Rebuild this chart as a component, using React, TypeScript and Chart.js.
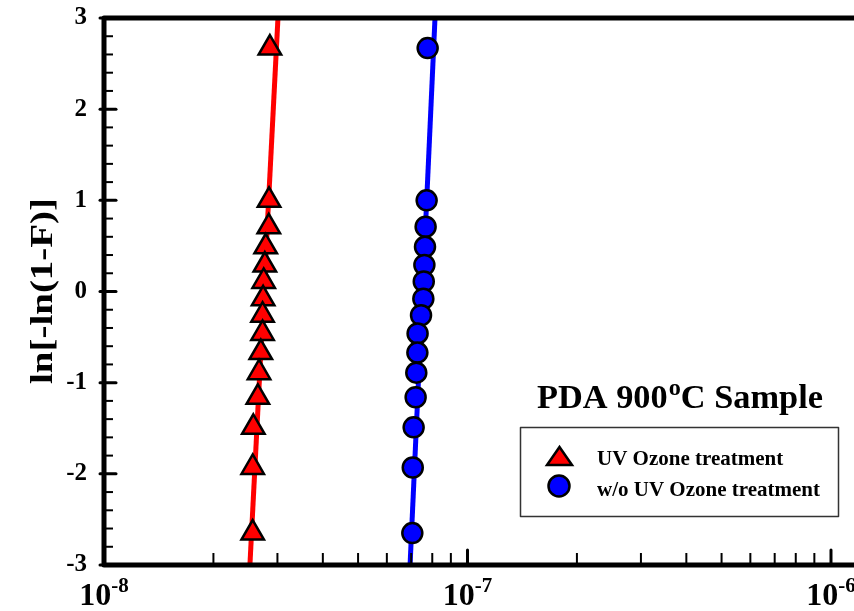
import React, { useEffect, useRef } from "react";
import { Chart, registerables } from "chart.js";

Chart.register(...registerables);

// ---- data ----
const fValues = [2.67, 1.0, 0.71, 0.49, 0.29, 0.11, -0.08, -0.26, -0.46, -0.67, -0.89, -1.16, -1.49, -1.93, -2.65];
const uvTimes = [2.86e-8, 2.845e-8, 2.84e-8, 2.785e-8, 2.77e-8, 2.75e-8, 2.74e-8, 2.73e-8, 2.73e-8, 2.7e-8, 2.67e-8, 2.65e-8, 2.575e-8, 2.565e-8, 2.565e-8];
const noUvTimes = [7.77e-8, 7.72e-8, 7.67e-8, 7.64e-8, 7.61e-8, 7.58e-8, 7.56e-8, 7.45e-8, 7.29e-8, 7.28e-8, 7.23e-8, 7.2e-8, 7.11e-8, 7.07e-8, 7.05e-8];
const fitY = [-3, 3];
const uvFitX = [2.52e-8, 3.01e-8];
const noUvFitX = [6.95e-8, 8.14e-8];
const yTickValues = [-3, -2, -1, 0, 1, 2, 3];
const xDecades = [-8, -7, -6];
const seriesLabels = ["UV Ozone treatment", "w/o UV Ozone treatment"];
const titleParts = ["PDA 900", "o", "C Sample"];
const yTitle = "ln[-ln(1-F)]";

const SERIF = "'Liberation Serif', 'Times New Roman', serif";
const bold = (px: number) => `bold ${px}px ${SERIF}`;

export default function App() {
  const ref = useRef<HTMLCanvasElement>(null);

  useEffect(() => {
    const canvas = ref.current;
    if (!canvas) return;

    const deco = {
      id: "deco",
      afterDatasetsDraw(chart: any) {
        const ctx: CanvasRenderingContext2D = chart.ctx;
        const { left, top, right, bottom } = chart.chartArea;
        const xs = chart.scales.x;
        const ys = chart.scales.y;
        ctx.save();
        ctx.strokeStyle = "#000";
        ctx.fillStyle = "#000";

        // y ticks (inside), minor every 0.2
        for (let k = -15; k <= 15; k++) {
          const v = k / 5;
          const py = ys.getPixelForValue(v);
          const major = k % 5 === 0;
          ctx.beginPath();
          ctx.lineWidth = major ? 3 : 2;
          ctx.lineCap = major ? "round" : "butt";
          ctx.moveTo(left - (major ? 4 : 0), py);
          ctx.lineTo(left + (major ? 12 : 9), py);
          ctx.stroke();
        }
        // x ticks (inside), log minor
        for (const d of xDecades) {
          for (let m = 1; m <= 9; m++) {
            const v = m * Math.pow(10, d);
            if (v <= xs.min || v > xs.max) continue;
            const px = xs.getPixelForValue(v);
            const major = m === 1;
            ctx.beginPath();
            ctx.lineWidth = major ? 3 : 2;
            ctx.lineCap = major ? "round" : "butt";
            ctx.moveTo(px, bottom);
            ctx.lineTo(px, bottom - (major ? 15 : 12));
            ctx.stroke();
          }
        }
        // frame: top, left, bottom
        ctx.beginPath();
        ctx.lineWidth = 5;
        ctx.lineJoin = "round";
        ctx.lineCap = "butt";
        ctx.moveTo(right + 5, top);
        ctx.lineTo(left, top);
        ctx.lineTo(left, bottom);
        ctx.lineTo(right + 5, bottom);
        ctx.stroke();

        // x tick labels 10^d
        ctx.textBaseline = "alphabetic";
        ctx.textAlign = "left";
        for (const d of xDecades) {
          const px = xs.getPixelForValue(Math.pow(10, d));
          ctx.font = bold(32);
          const wb = ctx.measureText("10").width;
          ctx.font = bold(21);
          const sup = String(d);
          const ws = ctx.measureText(sup).width;
          const x0 = px - (wb + ws) / 2;
          ctx.font = bold(32);
          ctx.fillText("10", x0, 605);
          ctx.font = bold(21);
          ctx.fillText(sup, x0 + wb, 592);
        }

        // y axis title
        ctx.save();
        ctx.font = bold(32);
        const wt = ctx.measureText(yTitle).width;
        const sy = 186 / wt;
        ctx.translate(52, 291);
        ctx.rotate(-Math.PI / 2);
        ctx.scale(sy, 1);
        ctx.textAlign = "center";
        ctx.fillText(yTitle, 0, 0);
        ctx.restore();

        // chart title with superscript
        ctx.save();
        ctx.font = bold(34);
        const w1 = ctx.measureText(titleParts[0]).width;
        const w3 = ctx.measureText(titleParts[2]).width;
        ctx.font = bold(24);
        const w2 = ctx.measureText(titleParts[1]).width;
        const sx = 285 / (w1 + w2 + w3);
        ctx.translate(537, 408);
        ctx.scale(sx, 1);
        ctx.textAlign = "left";
        ctx.font = bold(34);
        ctx.fillText(titleParts[0], 0, 0);
        ctx.font = bold(24);
        ctx.fillText(titleParts[1], w1 + 1, -13);
        ctx.font = bold(34);
        ctx.fillText(titleParts[2], w1 + w2 + 1, 0);
        ctx.restore();

        // legend box
        ctx.beginPath();
        ctx.lineWidth = 1.5;
        ctx.strokeStyle = "#333";
        ctx.rect(520.5, 427.5, 318, 89);
        ctx.stroke();
        // triangle marker
        ctx.beginPath();
        ctx.lineWidth = 2.5;
        ctx.strokeStyle = "#000";
        ctx.lineJoin = "miter";
        ctx.fillStyle = "#ff0000";
        ctx.moveTo(559.5, 447);
        ctx.lineTo(572, 465);
        ctx.lineTo(547, 465);
        ctx.closePath();
        ctx.fill();
        ctx.stroke();
        // circle marker
        ctx.beginPath();
        ctx.fillStyle = "#0000ff";
        ctx.arc(559, 486, 10.5, 0, Math.PI * 2);
        ctx.fill();
        ctx.stroke();
        // legend text
        ctx.fillStyle = "#000";
        ctx.font = bold(21);
        ctx.textAlign = "left";
        ctx.fillText(seriesLabels[0], 597, 465);
        ctx.fillText(seriesLabels[1], 597, 496);

        ctx.restore();
      },
    };

    const zeroPad = (s: any) => {
      s.paddingTop = 0;
      s.paddingBottom = 0;
      s.paddingLeft = 0;
      s.paddingRight = 0;
    };

    const chart = new Chart(canvas, {
      type: "scatter",
      data: {
        datasets: [
          {
            label: seriesLabels[0],
            data: uvTimes.map((x, i) => ({ x, y: fValues[i] })),
            pointStyle: "triangle",
            pointRadius: 13,
            backgroundColor: "#ff0000",
            borderColor: "#000000",
            borderWidth: 2.5,
            order: 1,
          },
          {
            label: seriesLabels[1],
            data: noUvTimes.map((x, i) => ({ x, y: fValues[i] })),
            pointStyle: "circle",
            pointRadius: 10,
            backgroundColor: "#0000ff",
            borderColor: "#000000",
            borderWidth: 2.5,
            order: 1,
          },
          {
            label: "UV fit",
            data: uvFitX.map((x, i) => ({ x, y: fitY[i] })),
            showLine: true,
            pointRadius: 0,
            borderColor: "#ff0000",
            borderWidth: 5,
            order: 2,
          },
          {
            label: "w/o UV fit",
            data: noUvFitX.map((x, i) => ({ x, y: fitY[i] })),
            showLine: true,
            pointRadius: 0,
            borderColor: "#0000ff",
            borderWidth: 5,
            order: 2,
          },
        ],
      },
      options: {
        animation: false,
        responsive: false,
        events: [],
        layout: { autoPadding: false, padding: { top: 18, left: 0, right: 0, bottom: 0 } },
        plugins: { legend: { display: false }, tooltip: { enabled: false } },
        scales: {
          x: {
            type: "logarithmic",
            min: 1e-8,
            max: Math.pow(10, -5.9367),
            grid: { display: false, drawTicks: false },
            border: { display: false },
            ticks: { display: false },
            afterFit: (s: any) => {
              s.height = 46;
              zeroPad(s);
            },
          },
          y: {
            type: "linear",
            min: -3,
            max: 3,
            grid: { display: false, drawTicks: false },
            border: { display: false },
            afterBuildTicks: (s: any) => {
              s.ticks = yTickValues.map((v) => ({ value: v }));
            },
            ticks: {
              padding: 17,
              color: "#000",
              font: { family: SERIF, size: 25, weight: "bold" },
            },
            afterFit: (s: any) => {
              s.width = 104;
              zeroPad(s);
            },
          },
        },
      },
      plugins: [deco],
    } as any);

    return () => chart.destroy();
  }, []);

  return (
    <div style={{ position: "absolute", left: 0, top: 0, width: 854, height: 611, background: "#fff" }}>
      <canvas ref={ref} width={854} height={611} style={{ display: "block" }} />
    </div>
  );
}
